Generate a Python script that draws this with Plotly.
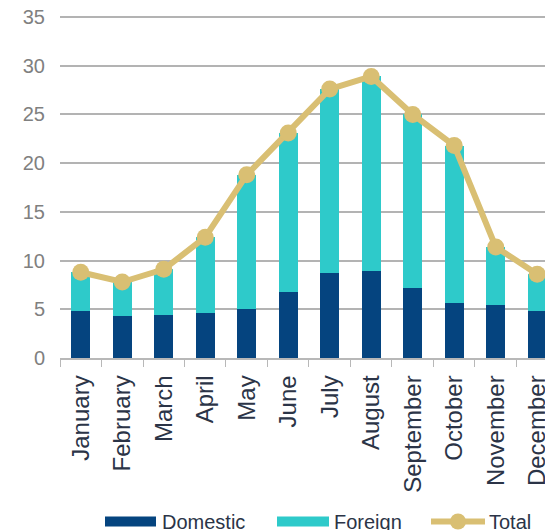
import plotly.graph_objects as go

months = ["January", "February", "March", "April", "May", "June", "July",
          "August", "September", "October", "November", "December"]
domestic = [4.85, 4.3, 4.45, 4.6, 5.05, 6.8, 8.7, 8.95, 7.2, 5.6, 5.45, 4.8]
total = [8.8, 7.8, 9.1, 12.4, 18.8, 23.1, 27.6, 28.9, 25.0, 21.8, 11.4, 8.6]
foreign = [round(t - d, 2) for t, d in zip(total, domestic)]
y_ticks = [0, 5, 10, 15, 20, 25, 30, 35]

C_DOM = "#05447f"
C_FOR = "#2ecaca"
C_TOT = "#d9bf73"
TXT = "#2b3447"

# the page body has an 8px margin, so the figure is drawn 8px smaller
OFF = 8
W, H = 553 - OFF, 530 - OFF
SCALE = 341 / 35.0          # pixels per unit on the y axis
ML, MR, MT, MB = 60 - OFF, 0, 1, 172
PW, PH = W - ML - MR, H - MT - MB
Y_TOP = PH / SCALE          # slightly above 35 so the 35 grid line is drawn


def px(x):
    # x in window pixels -> paper coordinate
    return (x - OFF - ML) / PW


def py(y):
    # y in window pixels -> paper coordinate
    return (H - MB - (y - OFF)) / PH


fig = go.Figure()
fig.add_trace(go.Bar(x=months, y=domestic, name="Domestic", showlegend=False,
                     marker=dict(color=C_DOM, line=dict(width=0))))
fig.add_trace(go.Bar(x=months, y=foreign, name="Foreign", showlegend=False,
                     marker=dict(color=C_FOR, line=dict(width=0))))
fig.add_trace(go.Scatter(x=months, y=total, name="Total", mode="lines+markers",
                         showlegend=False,
                         line=dict(color=C_TOT, width=6),
                         marker=dict(color=C_TOT, size=17)))

# manual legend (wide swatches like the reference)
shapes = []
annotations = []
legend_items = [
    ("Domestic", "rect", C_DOM, 105, 156, 160),
    ("Foreign", "rect", C_FOR, 277, 329, 332),
    ("Total", "line", C_TOT, 431, 485, 487),
]
ymid = 521.5
for name, kind, col, x0, x1, tx in legend_items:
    if kind == "rect":
        shapes.append(dict(type="rect", xref="paper", yref="paper",
                           x0=px(x0), x1=px(x1), y0=py(ymid + 5), y1=py(ymid - 5),
                           fillcolor=col, line=dict(width=0)))
    else:
        shapes.append(dict(type="line", xref="paper", yref="paper",
                           x0=px(x0), x1=px(x1), y0=py(ymid), y1=py(ymid),
                           line=dict(color=col, width=6)))
        xm = (x0 + x1) / 2
        shapes.append(dict(type="circle", xref="paper", yref="paper",
                           x0=px(xm - 8), x1=px(xm + 8), y0=py(ymid + 8), y1=py(ymid - 8),
                           fillcolor=col, line=dict(width=0)))
    annotations.append(dict(text=name, xref="paper", yref="paper",
                            x=px(tx), y=py(ymid), xanchor="left", yanchor="middle",
                            showarrow=False, font=dict(size=20, color=TXT)))

fig.update_layout(
    barmode="stack",
    bargap=0.54,
    width=W, height=H,
    margin=dict(l=ML, r=MR, t=MT, b=MB, autoexpand=False),
    paper_bgcolor="white", plot_bgcolor="white",
    font=dict(family="Liberation Sans, Arial, sans-serif", color=TXT),
    showlegend=False,
    shapes=shapes,
    annotations=annotations,
)
fig.update_xaxes(range=[-0.5, 11.38], tickangle=-90, tickfont=dict(size=24, color=TXT),
                 showline=True, linecolor="#b8b8b8", linewidth=1.5,
                 ticks="outside", tickson="boundaries", ticklen=7, tickcolor="#b8b8b8",
                 showgrid=False, automargin=False, ticklabelstandoff=6)
fig.update_yaxes(range=[0, Y_TOP], tickmode="array", tickvals=y_ticks,
                 tickfont=dict(size=20, color="#808080"), ticklabeloverflow="allow",
                 showgrid=True, gridcolor="#b3b3b3", gridwidth=1.5,
                 zeroline=False, showline=False, ticklabelstandoff=14, automargin=False)

fig.write_html("out.html")
